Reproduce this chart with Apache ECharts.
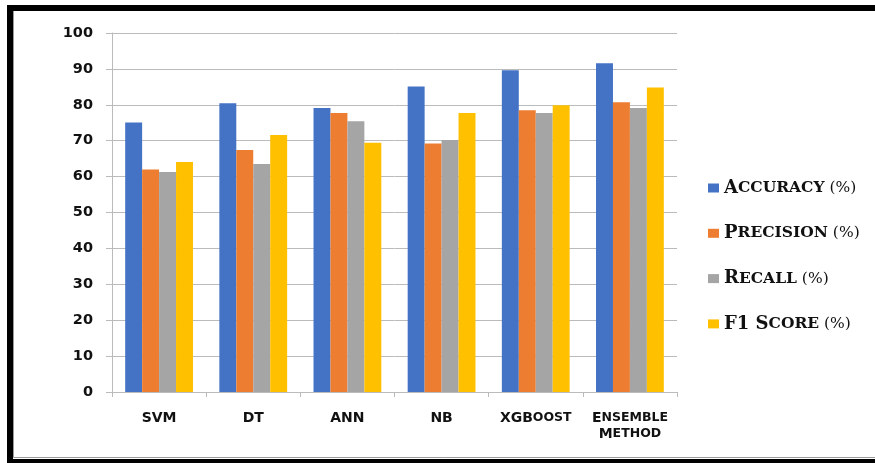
<!DOCTYPE html>
<html>
<head>
<meta charset="utf-8">
<script src="https://cdn.jsdelivr.net/npm/echarts@6/dist/echarts.min.js"></script>
<style>
  html, body { margin: 0; padding: 0; background: #fff; overflow: hidden; }
  #chart { width: 875px; height: 463px; }
</style>
</head>
<body>
<div id="chart"></div>
<script>
// Model comparison: classification metrics per algorithm
const categories = ['SVM', 'DT', 'ANN', 'NB', 'XGBoost', 'Ensemble Method'];
const seriesNames = ['Accuracy (%)', 'Precision (%)', 'Recall (%)', 'F1 Score (%)'];
const accuracy  = [75.1, 80.4, 79.1, 85.1, 89.6, 91.6];
const precision = [62.0, 67.4, 77.7, 69.2, 78.5, 80.7];
const recall    = [61.3, 63.5, 75.4, 70.2, 77.7, 79.1];
const f1Score   = [64.1, 71.6, 69.4, 77.7, 79.9, 84.8];
const yTicks    = { min: 0, max: 100, step: 10 };

const colors = ['#4472C4', '#ED7D31', '#A5A5A5', '#FFC000'];
const gridGray = '#BBBBBB';

// Render a word in small caps using rich-text segments:
// uppercase letters and digits stay full size, lowercase become small capitals.
function smallCaps(word, big, small) {
  let out = '';
  let i = 0;
  while (i < word.length) {
    const isLower = word[i] !== word[i].toUpperCase();
    let j = i;
    while (j < word.length && ((word[j] !== word[j].toUpperCase()) === isLower)) j++;
    out += '{' + (isLower ? small : big) + '|' + word.slice(i, j).toUpperCase() + '}';
    i = j;
  }
  return out;
}

function legendLabel(name) {
  const m = name.match(/^(.*?)\s*(\(%\))$/);
  const main = m ? m[1] : name;
  const words = main.split(' ').map(w => smallCaps(w, 'lb', 'ls'));
  return words.join('{lb| }') + (m ? '{lp| ' + m[2] + '}' : '');
}

function categoryLabel(name) {
  return name.split(' ').map(w => smallCaps(w, 'cb', 'cs')).join('\n');
}

const dataSets = [accuracy, precision, recall, f1Score];

const chart = echarts.init(document.getElementById('chart'), null, { renderer: 'canvas' });

chart.setOption({
  animation: false,
  backgroundColor: '#ffffff',
  color: colors,
  grid: { left: 112, right: 198, top: 33, bottom: 71, containLabel: false },
  legend: {
    orient: 'vertical',
    left: 703,
    top: 174,
    itemWidth: 11,
    itemHeight: 9,
    itemGap: 27.3,
    icon: 'rect',
    data: seriesNames,
    formatter: legendLabel,
    textStyle: {
      color: '#111',
      rich: {
        lb: { fontFamily: 'DejaVu Serif', fontWeight: 'bold', fontSize: 18, color: '#111' },
        ls: { fontFamily: 'DejaVu Serif', fontWeight: 'bold', fontSize: 15.5, color: '#111' },
        lp: { fontFamily: 'DejaVu Serif', fontWeight: 'normal', fontSize: 15.5, color: '#111' }
      }
    }
  },
  xAxis: {
    type: 'category',
    data: categories,
    axisLine: { lineStyle: { color: gridGray, width: 1 } },
    axisTick: { show: true, length: 5, lineStyle: { color: gridGray } },
    axisLabel: {
      interval: 0,
      margin: 18,
      formatter: categoryLabel,
      color: '#111',
      lineHeight: 16,
      rich: {
        cb: { fontFamily: 'DejaVu Sans', fontWeight: 'bold', fontSize: 14, color: '#111', lineHeight: 16 },
        cs: { fontFamily: 'DejaVu Sans', fontWeight: 'bold', fontSize: 12.5, color: '#111', lineHeight: 16 }
      }
    }
  },
  yAxis: {
    type: 'value',
    min: yTicks.min,
    max: yTicks.max,
    interval: yTicks.step,
    axisLine: { show: true, lineStyle: { color: gridGray, width: 1 } },
    axisTick: { show: true, length: 6, lineStyle: { color: gridGray } },
    splitLine: { lineStyle: { color: gridGray, width: 1 } },
    axisLabel: {
      margin: 19,
      color: '#111',
      fontFamily: 'DejaVu Sans',
      fontWeight: 'bold',
      fontSize: 14.5
    }
  },
  series: seriesNames.map((name, k) => ({
    name: name,
    type: 'bar',
    data: dataSets[k],
    barGap: '0%',
    barCategoryGap: '28%',
    itemStyle: { color: colors[k] }
  })),
  graphic: [
    // thin grey chart-area border along the left and bottom edges
    { type: 'polyline', shape: { points: [[13.5, 11], [13.5, 457.5], [875, 457.5]] },
      style: { stroke: '#9a9a9a', lineWidth: 1, fill: null }, silent: true },
    // heavy black frame open on the right: top, left and bottom bands as one outline
    { type: 'polygon',
      shape: { points: [[7, 5], [875, 5], [875, 11], [13, 11], [13, 459], [875, 459], [875, 463], [7, 463]] },
      style: { fill: '#000', stroke: null }, silent: true }
  ]
});
</script>
</body>
</html>
